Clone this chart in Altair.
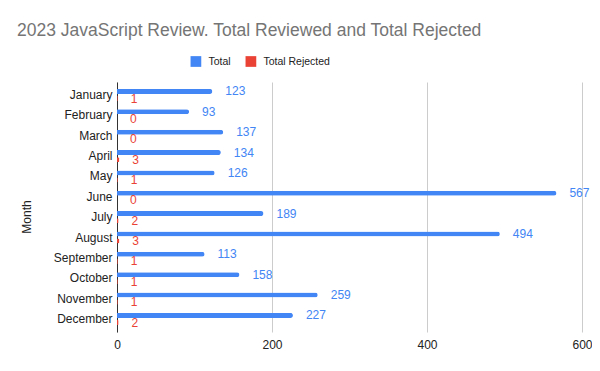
import altair as alt
import pandas as pd

months = ["January", "February", "March", "April", "May", "June", "July",
          "August", "September", "October", "November", "December"]
total = [123, 93, 137, 134, 126, 567, 189, 494, 113, 158, 259, 227]
rejected = [1, 0, 0, 3, 1, 0, 2, 3, 1, 1, 1, 2]
series_names = ["Total", "Total Rejected"]
colors = ["#4285F4", "#EA4335"]
x_ticks = [0, 200, 400, 600]

rows = []
for m, t, r in zip(months, total, rejected):
    rows.append({"month": m, "series": series_names[0], "value": t})
    rows.append({"month": m, "series": series_names[1], "value": r})
df = pd.DataFrame(rows)

FONT = "Liberation Sans"

y_enc = alt.Y(
    "month:N", sort=months,
    scale=alt.Scale(paddingInner=0.3, paddingOuter=0.29),
    axis=alt.Axis(title="Month", ticks=False, grid=False, domain=True,
                  domainColor="#333333", domainWidth=1, labelPadding=5,
                  labelFontSize=12, labelColor="#222222", labelFont=FONT,
                  titleFont=FONT, titleFontSize=12, titleFontWeight="normal",
                  titleColor="#222222", titleAngle=270, titleX=-91, titleY=134.5,
                  titleAlign="center", titleBaseline="middle"),
)
yoff_enc = alt.YOffset("series:N", sort=series_names,
                       scale=alt.Scale(paddingInner=0, paddingOuter=0))
x_enc = alt.X(
    "value:Q",
    scale=alt.Scale(domain=[0, 600], nice=False),
    axis=alt.Axis(title=None, values=x_ticks, ticks=False, domain=False,
                  grid=True, gridColor="#cccccc", gridWidth=1, labelFlush=False,
                  labelPadding=7, labelFontSize=12, labelColor="#222222",
                  labelFont=FONT),
)
color_scale = alt.Scale(domain=series_names, range=colors)

bars = alt.Chart(df).mark_bar(size=5, cornerRadiusEnd=2.5).encode(
    x=x_enc, y=y_enc, yOffset=yoff_enc,
    color=alt.Color("series:N", scale=color_scale, legend=alt.Legend(
        title=None, orient="none", legendX=73.4, legendY=-26,
        direction="horizontal", symbolType="square", symbolSize=115,
        symbolStrokeWidth=0, labelFontSize=10.5, labelColor="#222222",
        labelFont=FONT, labelOffset=7, columnPadding=14, padding=0)),
)

labels = alt.Chart(df).mark_text(
    align="left", baseline="middle", dx=13, fontSize=12, font=FONT
).encode(
    x=x_enc, y=y_enc, yOffset=yoff_enc,
    color=alt.Color("series:N", scale=color_scale, legend=None),
    text="value:Q",
)

chart = alt.layer(bars, labels).properties(
    width=465, height=250,
    autosize=alt.AutoSizeParams(type="none"),
    padding={"left": 109, "top": 74, "right": 10, "bottom": 30},
    title=alt.TitleParams(
        "2023 JavaScript Review. Total Reviewed and Total Rejected",
        anchor="start", frame="group", dx=-100, offset=3, baseline="alphabetic",
        fontSize=17.5, font=FONT, fontWeight="normal", color="#757575"),
).configure_view(stroke=None)

chart.save("out.html", embed_options={"renderer": "svg", "actions": False})
